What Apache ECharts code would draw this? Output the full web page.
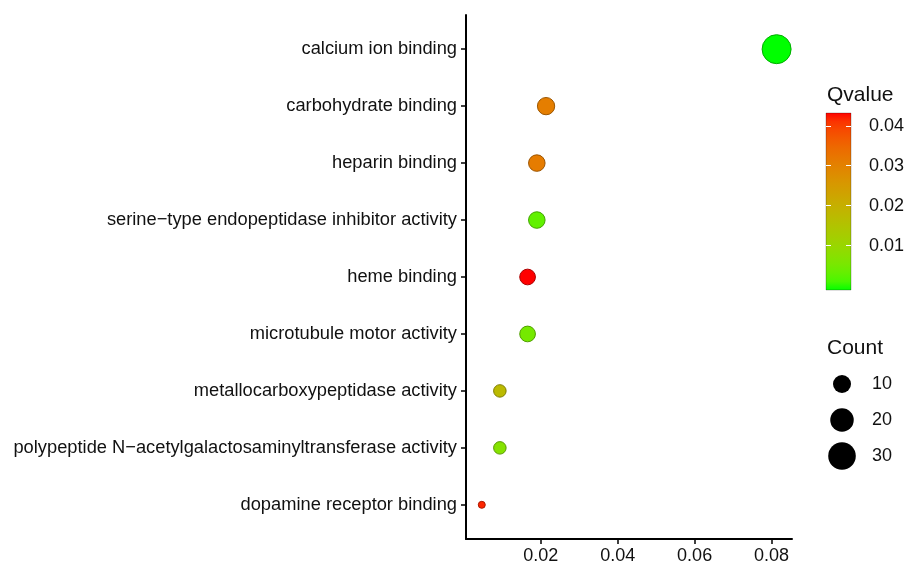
<!DOCTYPE html>
<html>
<head>
<meta charset="utf-8">
<script src="https://cdn.jsdelivr.net/npm/echarts@6/dist/echarts.min.js"></script>
<style>html,body{margin:0;padding:0;background:#fff;}#c{width:911px;height:566px;}</style>
</head>
<body>
<div id="c"></div>
<script>
const categories = ['calcium ion binding','carbohydrate binding','heparin binding','serine\u2212type endopeptidase inhibitor activity','heme binding','microtubule motor activity','metallocarboxypeptidase activity','polypeptide N\u2212acetylgalactosaminyltransferase activity','dopamine receptor binding'];
const geneRatio = [0.0813,0.0214,0.0190,0.0190,0.0166,0.0166,0.0094,0.0094,0.0047];
const counts = [34,9,8,8,7,7,4,4,2];
const qvalues = [0.0001,0.031,0.0315,0.004,0.0432,0.006,0.018,0.008,0.042];
const xTicks = [0.02,0.04,0.06,0.08];
const qTicks = [0.01,0.02,0.03,0.04];
const sizeBreaks = [10,20,30];

// colour scale (Lab interpolation green -> red, like ggplot)
function toLin(c){c/=255;return c<=0.04045?c/12.92:Math.pow((c+0.055)/1.055,2.4);}
function fromLin(c){c=c<=0.0031308?12.92*c:1.055*Math.pow(c,1/2.4)-0.055;return Math.max(0,Math.min(255,Math.round(c*255)));}
function rgb2lab(r,g,b){r=toLin(r);g=toLin(g);b=toLin(b);
 let x=(r*0.4124+g*0.3576+b*0.1805)/0.95047,y=(r*0.2126+g*0.7152+b*0.0722),z=(r*0.0193+g*0.1192+b*0.9505)/1.08883;
 const f=t=>t>0.008856?Math.cbrt(t):7.787*t+16/116;x=f(x);y=f(y);z=f(z);
 return [116*y-16,500*(x-y),200*(y-z)];}
function lab2rgb(L,a,b){let y=(L+16)/116,x=a/500+y,z=y-b/200;
 const fi=t=>t*t*t>0.008856?t*t*t:(t-16/116)/7.787;x=fi(x)*0.95047;y=fi(y);z=fi(z)*1.08883;
 let r=x*3.2406+y*-1.5372+z*-0.4986,g=x*-0.9689+y*1.8758+z*0.0415,bb=x*0.0557+y*-0.2040+z*1.0570;
 return [fromLin(r),fromLin(g),fromLin(bb)];}
const LOW=rgb2lab(0,255,0),HIGH=rgb2lab(255,0,0);
const qMin=Math.min(...qvalues),qMax=Math.max(...qvalues);
function colAt(t,k){t=Math.max(0,Math.min(1,t));const c=lab2rgb(LOW[0]+(HIGH[0]-LOW[0])*t,LOW[1]+(HIGH[1]-LOW[1])*t,LOW[2]+(HIGH[2]-LOW[2])*t);
 k=k||1;return 'rgb('+Math.round(c[0]*k)+','+Math.round(c[1]*k)+','+Math.round(c[2]*k)+')';}
function qColor(q,k){return colAt((q-qMin)/(qMax-qMin),k);}
const cMin=Math.min(...counts),cMax=Math.max(...counts);
function sizeFor(c){return 7+22*Math.sqrt(Math.max(0,(c-cMin)/(cMax-cMin)));}

const pts = categories.map((name,i)=>({
  value:[geneRatio[i],i+1,counts[i],qvalues[i]],
  itemStyle:{color:qColor(qvalues[i]),borderColor:qColor(qvalues[i],0.68),borderWidth:1,opacity:1}
}));
const cbMin=-0.0011,cbMax=0.0432;
const stops=[];for(let i=0;i<=20;i++){const t=i/20;stops.push({offset:t,color:qColor(qMax-(qMax-qMin)*t)});}

const txt='#111', ff='"Liberation Sans", Arial, sans-serif';
const chart=echarts.init(document.getElementById('c'),null,{renderer:'canvas'});
chart.setOption({
  animation:false,
  backgroundColor:'#fff',
  title:[
    {text:'Qvalue',left:822,top:80,textStyle:{fontFamily:ff,fontSize:21,fontWeight:'normal',color:txt}},
    {text:'Count',left:822,top:333,textStyle:{fontFamily:ff,fontSize:21,fontWeight:'normal',color:txt}}
  ],
  grid:[
    {left:466,top:15,width:326,height:524},
    {left:826,top:113,width:25,height:177},
    {left:826,top:366,width:32,height:108}
  ],
  xAxis:[
    {gridIndex:0,type:'value',min:0.0006,max:0.0853,splitLine:{show:false},
     axisLine:{lineStyle:{color:'#000',width:2}},
     axisTick:{customValues:xTicks,length:5,lineStyle:{color:'#000',width:1.5}},
     axisLabel:{customValues:xTicks,color:txt,fontSize:18,fontFamily:ff,margin:8}},
    {gridIndex:1,type:'value',min:0,max:1,show:false},
    {gridIndex:2,type:'value',min:0,max:1,show:false}
  ],
  yAxis:[
    {gridIndex:0,type:'value',min:0.4,max:9.6,inverse:true,splitLine:{show:false},
     axisLine:{lineStyle:{color:'#000',width:2}},
     axisTick:{customValues:categories.map((c,i)=>i+1),length:5,lineStyle:{color:'#000',width:1.5}},
     axisLabel:{customValues:categories.map((c,i)=>i+1),formatter:v=>categories[Math.round(v)-1],color:txt,fontSize:18.3,fontFamily:ff,margin:9}},
    {gridIndex:1,type:'value',min:cbMin,max:cbMax,position:'left',z:20,splitLine:{show:false},axisLine:{show:false},
     axisTick:{customValues:qTicks,inside:true,length:5,lineStyle:{color:'#fff',width:1}},axisLabel:{show:false}},
    {gridIndex:1,type:'value',min:cbMin,max:cbMax,position:'right',z:20,splitLine:{show:false},axisLine:{show:false},
     axisTick:{customValues:qTicks,inside:true,length:5,lineStyle:{color:'#fff',width:1}},
     axisLabel:{customValues:qTicks,color:txt,fontSize:18,fontFamily:ff,margin:18}},
    {gridIndex:2,type:'value',min:0.5,max:3.5,inverse:true,position:'right',splitLine:{show:false},axisLine:{show:false},axisTick:{show:false},
     axisLabel:{customValues:sizeBreaks.map((s,i)=>i+1),formatter:v=>String(sizeBreaks[Math.round(v)-1]),color:txt,fontSize:18,fontFamily:ff,margin:14}}
  ],
  series:[
    {type:'scatter',xAxisIndex:0,yAxisIndex:0,data:pts,symbolSize:v=>sizeFor(v[2]),itemStyle:{opacity:1}},
    {type:'custom',xAxisIndex:1,yAxisIndex:1,z:1,data:[[0,cbMax]],
     renderItem:(params,api)=>{const cs=params.coordSys;return {type:'rect',shape:{x:cs.x,y:cs.y,width:cs.width,height:cs.height},
       style:{fill:new echarts.graphic.LinearGradient(0,0,0,1,stops),stroke:'rgba(0,0,0,0.25)',lineWidth:1}};}},
    {type:'scatter',xAxisIndex:2,yAxisIndex:3,data:sizeBreaks.map((s,i)=>[0.5,i+1,s]),symbolSize:v=>sizeFor(v[2]),itemStyle:{color:'#000',opacity:1}}
  ]
});
</script>
</body>
</html>
